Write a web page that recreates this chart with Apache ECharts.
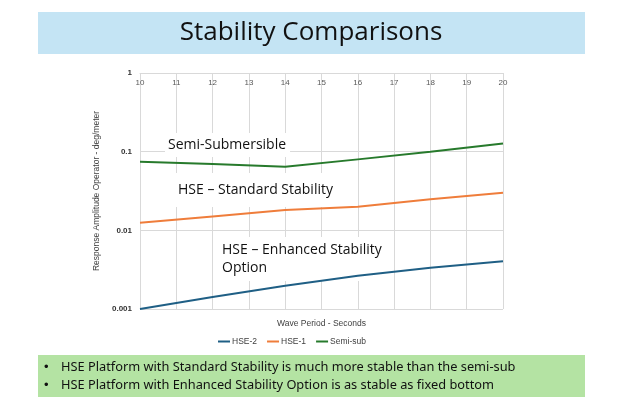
<!DOCTYPE html>
<html><head><meta charset="utf-8">
<script src="https://cdn.jsdelivr.net/npm/echarts@6/dist/echarts.min.js"></script>
<style>html,body{margin:0;padding:0;background:#fff}#c{width:638px;height:399px}</style>
</head><body><div id="c"></div>
<script>
const periods = [10, 12, 14, 16, 18, 20];
const hse2 = [0.00100, 0.00142, 0.00198, 0.00265, 0.00335, 0.00404];
const hse1 = [0.0125, 0.0150, 0.0181, 0.0200, 0.0248, 0.0300];
const semiSub = [0.0745, 0.0695, 0.0643, 0.0798, 0.0998, 0.127];
const seriesNames = ['HSE-2', 'HSE-1', 'Semi-sub'];
const colors = ['#1f5f85', '#ef7d3b', '#277a2c'];
const yTicks = [0.001, 0.01, 0.1, 1];
const bullets = ['HSE Platform with Standard Stability is much more stable than the semi-sub',
                 'HSE Platform with Enhanced Stability Option is as stable as fixed bottom'];

const chart = echarts.init(document.getElementById('c'));
const pair = arr => periods.map((p, i) => [p, arr[i]]);
const mk = (name, data, color) => ({
  name, type: 'line', data: pair(data), showSymbol: false, symbol: 'none',
  lineStyle: { color, width: 2 }, itemStyle: { color }, z: 3
});
const annFont = '14px "Open Sans"';
const ann = (x, y, text, pad) => ({ type: 'text', x, y, z: 2, style: { text, font: annFont, fill: '#111', textVerticalAlign: 'middle', lineHeight: 18, backgroundColor: '#fff', padding: pad } });
chart.setOption({
  animation: false,
  textStyle: { fontFamily: 'Liberation Sans' },
  grid: { left: 140, right: 135, top: 73, bottom: 90 },
  xAxis: [{
    type: 'value', position: 'top', min: 10, max: 20, interval: 1,
    axisLine: { lineStyle: { color: '#d9d9d9', width: 1 } },
    axisTick: { show: false },
    axisLabel: { inside: true, margin: 6, color: '#595959', fontSize: 8, verticalAlign: 'top' },
    splitLine: { show: true, lineStyle: { color: '#d9d9d9', width: 1 } }
  }, {
    type: 'value', position: 'bottom', min: 10, max: 20, interval: 1,
    axisLine: { show: false }, axisTick: { show: false }, axisLabel: { show: false }, splitLine: { show: false },
    name: 'Wave Period - Seconds', nameLocation: 'middle', nameGap: 10,
    nameTextStyle: { color: '#404040', fontSize: 8.5 }
  }],
  yAxis: {
    type: 'log', logBase: 10, min: 0.001, max: 1,
    axisLine: { show: false }, axisTick: { show: false },
    axisLabel: { color: '#333', fontSize: 8, margin: 8, fontWeight: 'bold',
      formatter: v => { const t = yTicks.find(x => Math.abs(x - v) / x < 1e-6); return t === undefined ? '' : String(t); } },
    splitLine: { show: true, lineStyle: { color: '#d9d9d9', width: 1 } },
    name: 'Response Amplitude Operator - deg/meter', nameLocation: 'middle', nameGap: 32,
    nameTextStyle: { color: '#404040', fontSize: 8.5 }
  },
  legend: {
    data: seriesNames, top: 332, left: 213, itemWidth: 12, itemHeight: 2, itemGap: 10,
    icon: 'rect', textStyle: { fontSize: 8.5, color: '#404040', padding: [0, 0, 0, -3] }
  },
  series: [mk(seriesNames[0], hse2, colors[0]), mk(seriesNames[1], hse1, colors[1]), mk(seriesNames[2], semiSub, colors[2])],
  graphic: [
    { type: 'rect', shape: { x: 38, y: 12, width: 547, height: 42 }, style: { fill: '#c4e4f4' }, z: -1 },
    { type: 'text', x: 311, y: 33, style: { text: 'Stability Comparisons', font: '26px "Open Sans"', fill: '#111', textAlign: 'center', textVerticalAlign: 'middle' } },
    { type: 'rect', shape: { x: 38, y: 355, width: 547, height: 42 }, style: { fill: '#b4e3a3' }, z: -1 },
    { type: 'text', x: 44, y: 367, style: { text: '•', font: '13px "Liberation Sans"', fill: '#111', textVerticalAlign: 'middle' } },
    { type: 'text', x: 61, y: 367, style: { text: bullets[0], font: '12.8px "Noto Sans"', fill: '#111', textVerticalAlign: 'middle' } },
    { type: 'text', x: 44, y: 385, style: { text: '•', font: '13px "Liberation Sans"', fill: '#111', textVerticalAlign: 'middle' } },
    { type: 'text', x: 61, y: 385, style: { text: bullets[1], font: '12.8px "Noto Sans"', fill: '#111', textVerticalAlign: 'middle' } },
    ann(165, 145, 'Semi-Submersible', [4, 4, 2, 3]),
    ann(175, 190, 'HSE – Standard Stability', [8, 6, 8, 3]),
    ann(219, 259, 'HSE – Enhanced Stability\nOption', [4, 6, 4, 3])
  ]
});
</script></body></html>
